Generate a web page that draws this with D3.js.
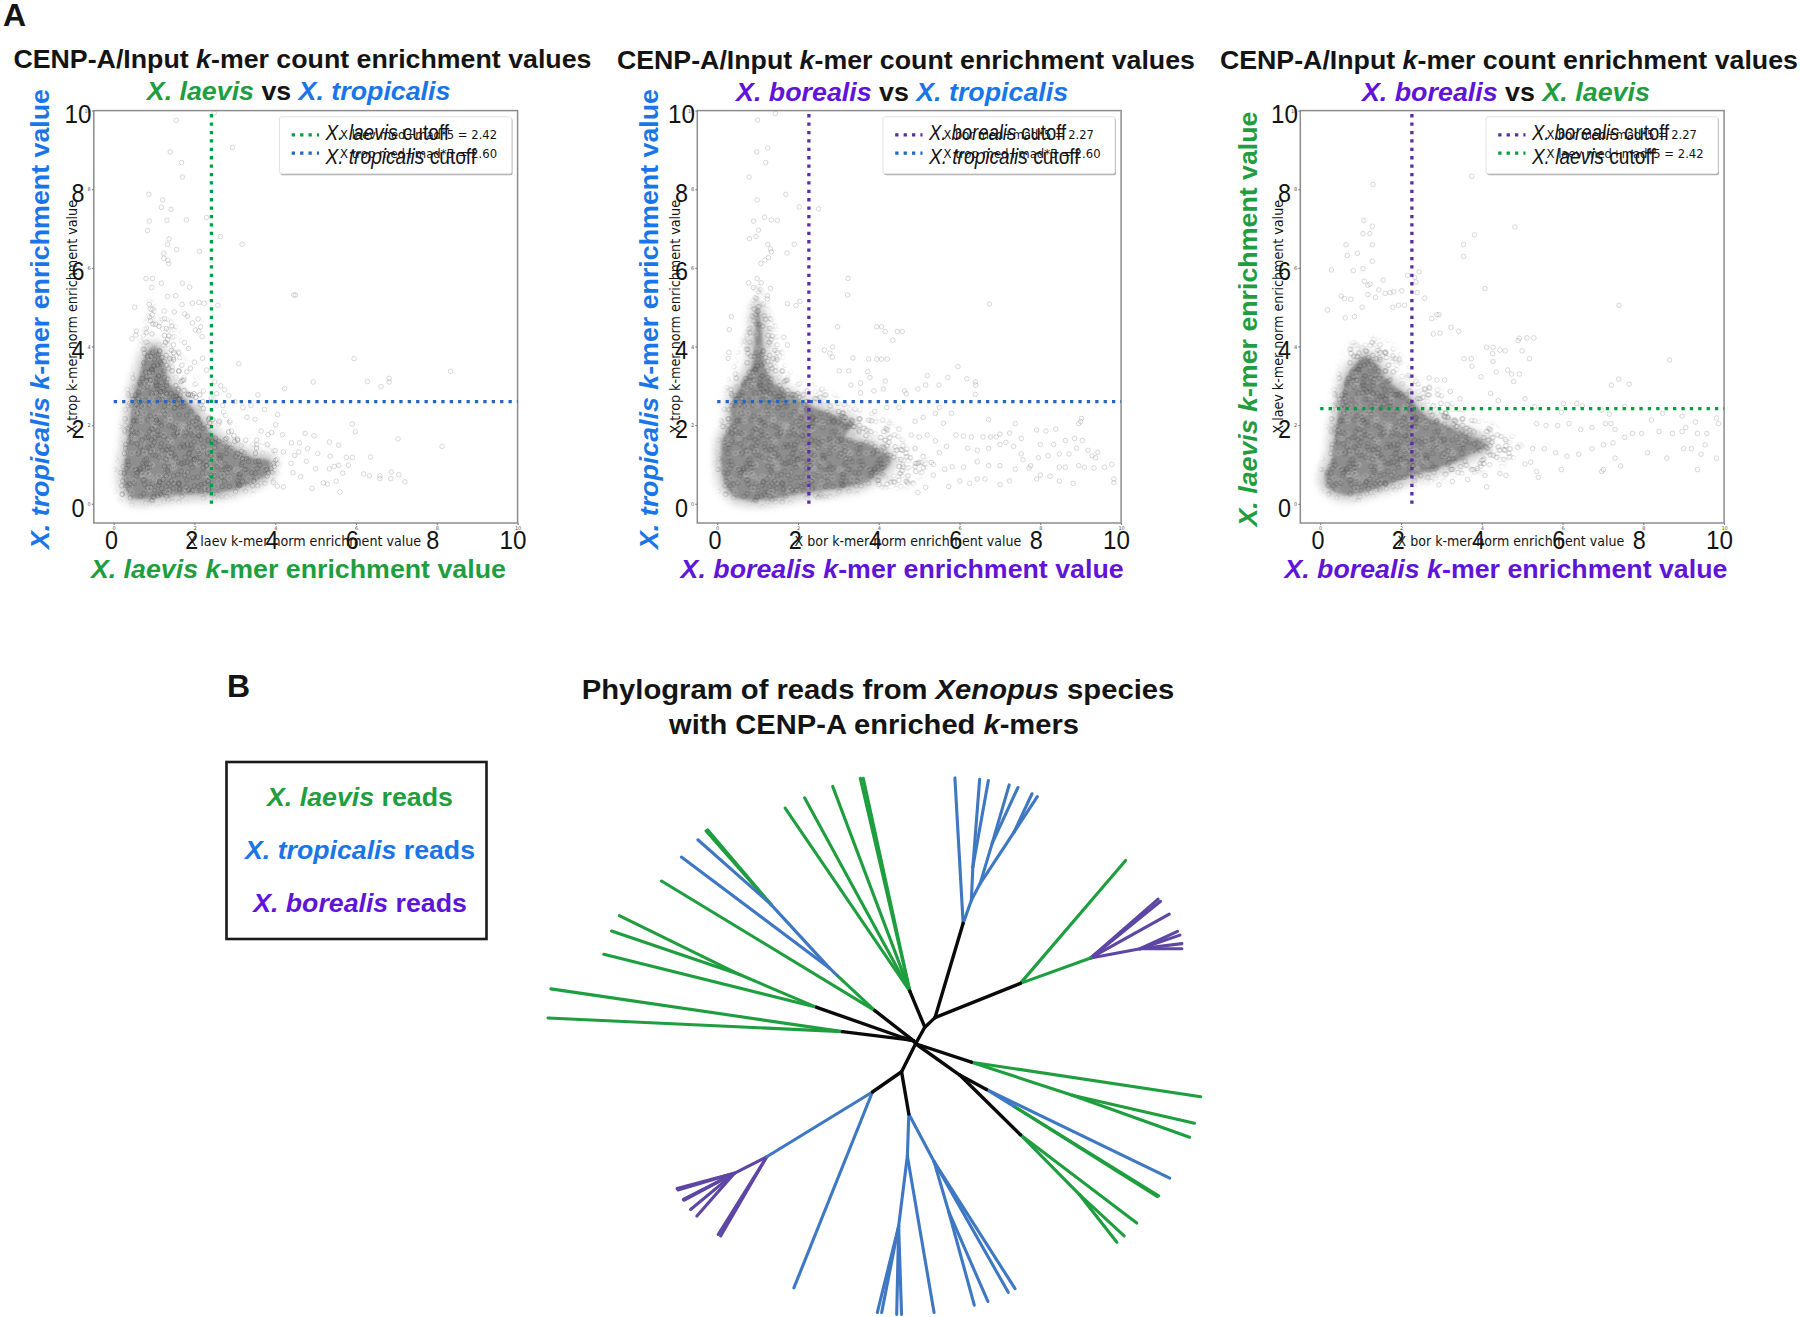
<!DOCTYPE html>
<html>
<head>
<meta charset="utf-8">
<script src="https://cdn.jsdelivr.net/npm/d3@7"></script>
<style>
	html, body { margin: 0; padding: 0; background: #fff; }
	text { font-family: "Liberation Sans", Arial, sans-serif; }
	.small { font-family: "DejaVu Sans", sans-serif; }
</style>
</head>
<body>
<div id="chart"></div>
<script>
var green = "#1f9e3f",
	blue = "#1a75e8",
	purple = "#5f14d8",
	ink = "#141414";

var axisTicks = [0, 2, 4, 6, 8, 10];

var laevCutoff = 2.42,
	tropCutoff = 2.60,
	borCutoff = 2.27;

// sparse points, [x, y]
var laevTropPoints = [[2.49,9.94],[1.55,9.75],[2.94,9.06],[1.40,8.95],[1.68,8.68],[1.70,8.31],[0.87,7.87],[1.21,7.73],[1.18,7.54],[1.42,7.49],[0.88,7.19],[1.32,7.21],[1.80,7.22],[2.30,7.28],[0.84,6.95],[2.64,6.80],[1.37,6.74],[1.33,6.60],[3.18,6.60],[1.56,6.47],[1.24,6.37],[2.12,6.42],[1.24,6.24],[1.34,6.19],[1.36,6.11],[0.80,5.73],[0.96,5.73],[1.18,5.61],[1.70,5.61],[1.88,5.51],[0.94,5.50],[4.46,5.31],[4.50,5.31],[1.33,5.27],[1.53,5.29],[1.95,5.10],[2.11,5.12],[2.24,5.10],[2.58,5.05],[0.52,5.00],[1.69,5.07],[0.88,5.07],[0.97,4.95],[1.25,4.90],[1.50,4.88],[1.76,4.83],[1.83,4.77],[2.09,4.70],[1.26,4.71],[0.56,4.39],[0.45,4.20],[0.55,4.29],[2.11,4.39],[2.02,4.42],[2.19,4.25],[5.95,3.69],[3.10,3.56],[8.34,3.37],[6.28,3.11],[6.82,3.10],[6.82,3.19],[6.62,2.98],[4.94,3.10],[4.23,2.93],[3.57,2.77],[5.91,2.03],[5.98,1.83],[4.06,2.27],[3.73,2.40],[7.04,1.65],[8.13,1.46],[5.57,1.49],[5.34,1.57],[4.80,1.40],[4.74,1.79],[4.96,1.73],[4.18,1.76],[5.76,1.18],[6.36,1.19],[5.91,1.18],[5.36,1.21],[5.05,1.28],[4.77,1.08],[5.81,0.98],[5.34,0.89],[5.46,0.95],[5.57,0.98],[6.19,0.76],[6.33,0.71],[6.59,0.71],[6.59,0.64],[6.87,0.81],[6.86,0.64],[7.06,0.74],[7.21,0.56],[5.19,0.53],[5.29,0.50],[5.60,0.30],[4.91,0.39],[4.20,0.43],[5.51,0.58],[5.67,0.78],[5.00,0.89],[4.63,0.69],[4.39,1.03],[4.48,1.23],[4.58,1.32],[4.44,0.79],[4.20,1.32],[3.91,1.81],[4.01,2.01],[3.82,1.76],[3.54,1.62],[2.20,3.70],[2.00,3.60],[1.90,3.45],[2.30,3.40],[2.50,3.10],[2.65,3.00],[2.75,2.90],[2.55,2.80],[2.85,2.75],[3.00,2.60],[3.20,2.45],[3.40,2.50],[3.30,2.20],[3.50,2.15],[2.70,2.50],[1.75,4.10],[1.85,3.95],[1.95,4.60],[2.15,4.50],[3.65,1.85],[3.80,1.50],[4.00,1.35],[4.40,1.55],[3.95,0.55],[4.05,0.45],[4.60,1.55]];
var borTropPoints = [[1.44,9.93],[1.00,9.76],[0.98,8.95],[1.25,9.05],[1.20,8.68],[0.79,8.31],[1.70,7.87],[0.99,7.73],[2.03,7.55],[2.51,7.50],[0.90,7.19],[1.17,7.29],[1.34,7.22],[1.49,7.21],[1.02,6.96],[0.80,6.74],[0.96,6.80],[1.91,6.60],[1.25,6.60],[1.32,6.48],[1.34,6.41],[1.73,6.38],[1.27,6.26],[1.18,6.20],[1.08,6.11],[0.99,5.73],[0.78,5.62],[0.90,5.50],[1.09,5.62],[1.32,5.48],[3.24,5.73],[3.23,5.31],[6.74,5.08],[1.24,5.29],[1.24,5.21],[1.74,5.09],[2.05,5.15],[1.95,5.04],[0.35,4.76],[2.98,4.50],[3.95,4.50],[4.07,4.50],[4.16,4.38],[4.46,4.38],[4.58,4.38],[4.35,4.16],[5.96,3.49],[0.30,4.43],[0.29,3.85],[0.27,3.70],[2.65,3.91],[2.86,3.99],[2.79,3.83],[2.85,3.73],[3.36,3.71],[3.75,3.68],[3.95,3.68],[4.07,3.68],[4.21,3.68],[1.65,4.24],[1.74,4.04],[5.20,3.26],[5.16,3.02],[4.97,2.92],[6.18,3.18],[6.39,3.10],[6.40,3.02],[5.71,3.21],[5.49,3.02],[4.16,3.12],[4.64,2.87],[4.68,2.80],[6.39,2.78],[4.11,2.92],[3.88,2.87],[3.55,3.07],[3.31,3.02],[3.02,3.38],[3.26,3.38],[3.73,3.36],[3.78,3.21],[3.55,2.82],[6.72,2.14],[7.38,2.04],[9.00,2.09],[8.95,2.04],[9.02,2.17],[8.38,1.90],[8.14,1.85],[7.91,1.88],[7.53,1.66],[7.24,1.80],[7.00,1.77],[6.91,1.70],[6.77,1.70],[6.58,1.70],[6.29,1.70],[6.10,1.72],[5.91,1.75],[5.68,1.46],[6.20,1.41],[6.44,1.36],[6.72,1.41],[7.00,1.51],[7.15,1.56],[7.34,1.46],[7.53,1.27],[7.57,1.12],[8.00,1.51],[8.33,1.51],[8.62,1.61],[9.04,1.61],[9.18,1.36],[9.42,1.31],[8.90,1.41],[8.71,1.27],[8.47,1.27],[8.19,1.22],[7.95,1.17],[7.76,0.97],[7.72,0.91],[7.38,0.88],[7.00,0.97],[6.72,0.97],[6.44,1.07],[6.10,0.93],[5.82,0.94],[5.63,0.88],[5.35,0.73],[5.16,0.42],[4.97,0.29],[5.73,0.44],[6.01,0.58],[6.25,0.52],[6.44,0.63],[6.63,0.63],[7.00,0.49],[7.24,0.58],[7.91,0.63],[8.00,0.73],[8.24,0.70],[8.47,0.58],[8.81,0.52],[8.62,0.93],[8.95,0.97],[9.09,0.93],[9.33,0.91],[9.59,0.93],[9.77,1.00],[9.82,0.63],[9.82,0.54],[8.47,0.93],[9.37,1.17],[8.85,1.66],[9.28,1.22],[4.50,1.90],[4.80,1.75],[5.00,1.70],[5.20,1.75],[5.40,1.60],[5.50,1.30],[4.90,1.40],[5.10,1.20],[5.30,1.05],[4.60,1.00],[4.90,0.95],[5.10,0.92],[5.35,1.00],[4.50,0.60],[4.30,0.55],[4.70,0.55],[4.10,0.75],[4.90,2.10],[5.10,2.20],[5.60,2.05],[5.50,2.45],[5.80,2.30],[5.40,2.30],[4.50,2.45],[4.20,2.45],[3.90,2.35]];
var borLaevPoints = [[1.31,8.12],[3.75,8.33],[4.82,7.04],[1.08,7.21],[1.29,7.06],[1.06,6.87],[1.23,6.87],[3.82,6.84],[3.55,6.60],[0.64,6.59],[0.67,6.32],[1.29,6.59],[1.29,6.17],[0.92,6.37],[3.55,6.29],[0.28,5.95],[1.06,5.98],[0.82,5.93],[2.16,5.81],[2.45,5.90],[2.34,5.76],[2.37,5.64],[4.08,5.47],[0.18,4.93],[0.52,5.28],[0.60,5.22],[0.76,5.20],[1.09,5.66],[1.18,5.56],[1.23,5.59],[1.56,5.69],[1.45,5.44],[1.61,5.35],[1.73,5.37],[1.82,5.39],[1.37,5.25],[1.18,5.32],[2.02,5.42],[2.40,5.37],[2.59,5.23],[7.40,5.05],[1.80,5.00],[1.94,5.05],[2.09,5.05],[1.04,5.00],[0.62,4.73],[0.85,4.76],[2.89,4.81],[2.94,4.81],[2.76,4.71],[3.24,4.49],[3.43,4.39],[2.97,4.34],[2.80,4.32],[4.93,4.21],[4.90,4.15],[5.12,4.22],[5.29,4.22],[5.00,3.89],[5.18,3.69],[8.65,3.66],[4.12,3.98],[4.28,3.98],[4.27,3.82],[4.28,3.62],[4.45,3.91],[4.58,3.89],[3.56,3.69],[3.76,3.50],[3.74,3.69],[3.98,3.23],[4.79,3.11],[7.65,3.04],[7.21,3.02],[7.39,3.17],[4.36,3.35],[4.64,3.40],[4.74,3.30],[4.93,3.30],[2.70,3.20],[2.89,3.15],[3.08,3.15],[2.70,2.96],[3.22,2.86],[3.46,2.67],[4.22,2.81],[4.41,2.62],[6.02,2.55],[6.35,2.55],[6.49,2.49],[5.07,2.67],[5.31,2.47],[5.97,2.33],[6.97,2.38],[7.16,2.28],[7.54,2.47],[8.20,2.13],[8.48,2.30],[8.96,2.23],[9.05,1.94],[9.29,2.08],[9.81,2.18],[9.86,2.04],[8.39,1.84],[8.72,1.79],[8.96,1.84],[9.34,1.79],[9.57,1.79],[7.96,1.79],[7.73,1.79],[7.30,1.89],[7.06,2.04],[6.73,1.94],[6.45,1.89],[6.16,2.04],[5.88,1.99],[5.59,1.99],[5.36,2.04],[7.01,1.50],[7.25,1.55],[7.54,1.69],[8.10,1.30],[7.30,1.16],[7.44,0.96],[6.97,0.82],[7.01,0.87],[9.00,1.40],[9.19,1.40],[9.53,1.50],[9.81,1.16],[9.43,1.26],[9.34,0.87],[8.58,1.16],[6.40,1.26],[6.73,1.40],[6.11,1.21],[5.97,0.87],[5.83,1.30],[5.55,1.40],[5.26,1.40],[5.36,0.82],[5.40,0.67],[5.07,1.01],[5.21,1.06],[4.60,0.72],[4.45,0.77],[4.12,0.43],[4.08,0.72],[3.27,0.57],[2.94,0.48],[3.65,0.62],[7.20,2.04]];

// outlines of the dense clouds, in data units
var laevTropCore = [[0.45,0.16],[0.27,0.45],[0.24,0.74],[0.31,1.32],[0.36,1.81],[0.45,2.49],[0.52,2.88],[0.64,3.27],[0.83,3.86],[1.02,4.00],[1.21,3.66],[1.36,3.08],[1.50,2.93],[2.02,2.35],[2.40,1.81],[2.87,1.47],[3.44,1.18],[3.87,1.08],[3.77,0.74],[3.35,0.50],[2.68,0.30],[1.64,0.23],[0.79,0.13]];
var laevTropHalo = [[0.20,0.10],[0.10,0.50],[0.15,1.30],[0.30,2.30],[0.40,3.00],[0.65,3.80],[0.80,4.60],[0.95,5.20],[1.10,4.70],[1.50,4.60],[1.65,3.80],[2.20,3.00],[2.70,2.40],[3.10,1.80],[3.70,1.50],[4.10,1.10],[3.90,0.60],[3.30,0.32],[2.40,0.20],[1.00,0.08]];
var borTropCore = [[0.32,0.29],[0.18,0.53],[0.11,0.92],[0.13,1.61],[0.32,2.00],[0.37,2.58],[0.61,3.07],[0.84,3.46],[0.94,4.30],[1.00,5.00],[1.10,4.40],[1.18,3.50],[1.41,3.07],[2.12,2.58],[2.79,2.29],[3.36,2.05],[3.17,1.71],[3.73,1.51],[4.30,1.12],[3.92,0.68],[3.26,0.44],[2.22,0.29],[1.08,0.10],[0.51,0.15]];
var borTropHalo = [[0.10,0.30],[0.02,1.00],[0.10,1.90],[0.25,2.90],[0.45,3.60],[0.70,4.20],[0.85,5.00],[1.00,5.60],[1.20,5.00],[1.50,4.30],[1.70,3.40],[2.60,2.90],[3.50,2.40],[4.20,2.10],[4.60,1.60],[5.20,1.00],[4.80,0.50],[3.80,0.40],[2.60,0.18],[1.00,0.05]];
var borLaevCore = [[0.19,0.43],[0.12,0.72],[0.28,1.11],[0.38,1.89],[0.52,2.67],[0.66,3.25],[1.09,3.74],[1.37,3.59],[1.66,3.15],[2.13,2.77],[2.70,2.18],[3.46,1.84],[4.12,1.50],[3.65,1.21],[3.08,0.96],[2.32,0.72],[1.47,0.43],[0.62,0.23]];
var borLaevHalo = [[0.10,0.35],[0.05,0.80],[0.15,1.30],[0.25,2.00],[0.35,2.80],[0.50,3.50],[0.80,4.10],[1.30,4.20],[1.90,3.90],[2.30,3.20],[2.90,2.90],[3.60,2.30],[4.40,1.90],[5.00,1.40],[4.50,1.00],[3.60,0.75],[2.60,0.55],[1.50,0.30],[0.60,0.15]];

// tree nodes in read-off units: name, x, y
var treeNodes = [["r",857,825],["a",876,780],["b",897,754],["g1",845,682],["bl1",955,498],["g2",1073,661],["j",853,817],["g3",773,735],["k",830,808],["g4",653,726],["m",836,813],["g5",706,792],["d",828,901],["bl2",768,956],["bl3",843,1016],["g6",972,875],["e",948,910],["bl4",1003,949],["g7",1073,1072],
	["t1",588,185],["t2",628,157],["t3",686,126],["t4",743,104],["t5",749,104],
	["n1",972,435],["n2",975,345],["n3",990,390],["n4",1015,280],["n5",1060,250],["t6",938,103],["t7",989,107],["t8",1007,110],["t9",1050,122],["t10",1068,129],["t11",1097,146],["t12",1108,154],
	["t13",1290,327],["p1",1218,592],["p3",1320,567],["t14",1357,432],["t15",1362,438],["t16",1380,473],["t17",1397,520],["t18",1402,530],["t19",1406,553],["t20",1406,567],
	["t21",333,383],["bn",695,639],["bm",679,619],["bo",559,447],["t22",374,318],["t23",408,271],["t24",428,244],["t25",425,247],
	["h",494,637],["t26",246,477],["t27",230,519],["t28",214,582],["t29",105,676],["t30",99,755],
	["t31",1445,969],["q",1180,965],["t32",1432,1041],["t33",1422,1079],
	["t34",1381,1190],["gg",1060,995],["t35",1358,1238],["t36",1355,1240],
	["t37",1313,1312],["w",1195,1235],["t38",1287,1347],["t39",1272,1364],
	["t40",606,1488],["p4",550,1132],["t41",455,1347],["t42",450,1343],["p5",483,1177],["t43",365,1218],["t44",367,1222],["t45",378,1248],["t46",380,1250],["t47",393,1275],["t48",406,1293],
	["c1",840,1130],["c2",895,1145],["c3",822,1320],["c4",925,1280],["t49",895,1555],["t50",778,1555],["t51",787,1555],["t52",818,1560],["t53",828,1560],["t54",1062,1490],["t55",1048,1500],["t56",978,1535],["t57",1006,1525]];

var blackBranches = [["r","a"],["a","b"],["a","g1"],["b","bl1"],["b","g2"],["r","j"],["j","g3"],["j","k"],["k","g4"],["j","m"],["m","g5"],["r","d"],["d","bl2"],["d","bl3"],["r","g6"],["r","e"],["e","bl4"],["e","g7"]];
var greenBranches = [["g1","t1"],["g1","t2"],["g1","t3"],["g1","t4"],["g1","t5"],["g2","t13"],["g2","p1"],["g3","t21"],["g3","bn"],["bo","t24"],["bo","t25"],["g4","h"],["h","t26"],["h","t27"],["g4","t28"],["g5","t29"],["g5","t30"],["g6","t31"],["g6","q"],["q","t32"],["q","t33"],["gg","t35"],["gg","t36"],["g7","t37"],["g7","w"],["w","t38"],["w","t39"]];
var blueBranches = [["bl1","t6"],["bl1","n1"],["n1","n2"],["n2","t7"],["n2","t8"],["n1","n3"],["n3","n4"],["n4","t9"],["n4","t10"],["n3","n5"],["n5","t11"],["n5","t12"],["bn","bm"],["bm","t22"],["bm","bo"],["bo","t23"],["bl4","t34"],["bl4","gg"],["bl2","t40"],["bl2","p4"],["bl3","c1"],["bl3","c2"],["c1","t49"],["c1","c3"],["c3","t50"],["c3","t51"],["c3","t52"],["c3","t53"],["c2","t54"],["c2","t55"],["c2","c4"],["c4","t56"],["c4","t57"]];
var purpleBranches = [["p1","t14"],["p1","t15"],["p1","t16"],["p1","p3"],["p3","t17"],["p3","t18"],["p3","t19"],["p3","t20"],["p4","t41"],["p4","t42"],["p4","p5"],["p5","t43"],["p5","t44"],["p5","t45"],["p5","t46"],["p5","t47"],["p5","t48"]];

var readsLegend = [["X. laevis", green], ["X. tropicalis", blue], ["X. borealis", purple]];

var panels = [
	{id: "a", dx: 0, dy: 0, points: laevTropPoints, core: laevTropCore, halo: laevTropHalo,
		names: [["X. laevis", green], ["X. tropicalis", blue]], yTitleX: 49,
		shortX: "X laev", shortY: "X trop", cutX: laevCutoff, cutY: tropCutoff, xTitleC: 298.4, subC: 298.6,
		colX: "#00a040", colY: "#2266c4", subW: 303.6, xW: 415, yW: 460},
	{id: "b", dx: 603.5, dy: 1.5, points: borTropPoints, core: borTropCore, halo: borTropHalo,
		names: [["X. borealis", purple], ["X. tropicalis", blue]], yTitleX: 54.5,
		shortX: "X bor", shortY: "X trop", cutX: borCutoff, cutY: tropCutoff, xTitleC: 298.6, subC: 298.6,
		colX: "#5a2ca8", colY: "#2266c4", subW: 332, xW: 443, yW: 460},
	{id: "c", dx: 1206.5, dy: 1.5, points: borLaevPoints, core: borLaevCore, halo: borLaevHalo,
		names: [["X. borealis", purple], ["X. laevis", green]], yTitleX: 50.5,
		shortX: "X bor", shortY: "X laev", cutX: borCutoff, cutY: laevCutoff, xTitleC: 299.4, subC: 299.4,
		colX: "#5a2ca8", colY: "#00a040", subW: 288, xW: 443, yW: 415}
];

var svg = d3.select("#chart").append("svg")
	.attr("width", 1800)
	.attr("height", 1317)
	.style("display", "block");

var defs = svg.append("defs");

// texture for the dense regions, big tile so it does not show as stripes
function addTexture(id, size, count, base, stroke, opacity) {
	var p = defs.append("pattern")
		.attr("id", id)
		.attr("patternUnits", "userSpaceOnUse")
		.attr("width", size)
		.attr("height", size);
	if (base) {
		p.append("rect").attr("width", size).attr("height", size).attr("fill", base);
	}
	d3.range(count).forEach(function(i) {
		var cx = ((i * i * 0.000431 + i * 0.7548777) % 1) * size,
			cy = ((i * i * 0.000277 + i * 0.5698403) % 1) * size,
			light = (i * 7) % 13 < 4;
		[0, -size, size].forEach(function(ox) {
			[0, -size, size].forEach(function(oy) {
				var px = cx + ox, py = cy + oy;
				if (px < -3 || px > size + 3 || py < -3 || py > size + 3) { return; }
				p.append("circle")
					.attr("cx", px)
					.attr("cy", py)
					.attr("r", 2.3)
					.attr("fill", "none")
					.attr("stroke", light ? "#bdbdbd" : stroke)
					.attr("stroke-width", 0.8)
					.attr("stroke-opacity", opacity);
			});
		});
	});
}
addTexture("coreTexture", 131, 750, "#8e8e8e", "#555", 0.5);
addTexture("haloTexture", 131, 560, null, "#808080", 0.5);

[[ "blur1", 1.5 ], [ "blur2", 3 ], [ "blur3", 4.5 ]].forEach(function(b) {
	defs.append("filter").attr("id", b[0])
		.attr("x", "-20%").attr("y", "-20%").attr("width", "140%").attr("height", "140%")
		.append("feGaussianBlur").attr("stdDeviation", b[1]);
});

function addRich(sel, parts) {
	parts.forEach(function(part) {
		sel.append("tspan")
			.text(part[0])
			.attr("font-style", part[1] ? "italic" : "normal")
			.attr("fill", part[2] || ink);
	});
}

function drawPanel(panel) {
	var g = svg.append("g").attr("transform", "translate(" + panel.dx + ",0)");
	var x = d3.scaleLinear().domain([0, 10]).range([113.7, 517.6]);
	var y = d3.scaleLinear().domain([0, 10]).range([503.8, 110.6]);
	var bigX = d3.scaleLinear().domain([0, 10]).range([111.4, 513]);
	var bigY = d3.scaleLinear().domain([0, 10]).range([508, 113.7]);

	var outline = d3.line()
		.x(function(d) { return x(d[0]); })
		.y(function(d) { return y(d[1]); })
		.curve(d3.curveCatmullRomClosed);

	// each dense layer is the texture seen through a soft-edged mask
	function denseLayer(name, shape, texture, blur, spread, opacity) {
		var maskId = panel.id + name;
		var m = defs.append("mask").attr("id", maskId).attr("maskUnits", "userSpaceOnUse")
			.attr("x", 0).attr("y", 0).attr("width", 1800).attr("height", 1317);
		m.append("path").attr("d", outline(shape))
			.attr("fill", "#fff")
			.attr("stroke", "#fff")
			.attr("stroke-width", spread)
			.attr("filter", "url(#" + blur + ")");
		g.append("rect").attr("x", 90).attr("y", 105).attr("width", 435).attr("height", 425)
			.attr("fill", "url(#" + texture + ")")
			.attr("opacity", opacity)
			.attr("mask", "url(#" + maskId + ")");
	}
	denseLayer("halo", panel.halo, "haloTexture", "blur2", 0, 1);
	denseLayer("mid", panel.core, "coreTexture", "blur3", 12, 0.45);
	denseLayer("core", panel.core, "coreTexture", "blur1", 0, 1);

	g.selectAll("circle.pt").data(panel.points).enter().append("circle")
		.attr("class", "pt")
		.attr("cx", function(d) { return x(d[0]); })
		.attr("cy", function(d) { return y(d[1]); })
		.attr("r", 2.3)
		.attr("fill", "none")
		.attr("stroke", "#808080")
		.attr("stroke-opacity", 0.38)
		.attr("stroke-width", 0.8);

	// frame
	g.append("rect")
		.attr("x", 93.8).attr("y", 110.6)
		.attr("width", 423.8).attr("height", 412.4)
		.attr("fill", "none")
		.attr("stroke", "#8c8c8c")
		.attr("stroke-width", 1.5);

	// tiny original tick labels
	var xAxis = d3.axisBottom(x).tickValues(axisTicks).tickSize(2).tickPadding(1);
	var yAxis = d3.axisLeft(y).tickValues(axisTicks).tickSize(2).tickPadding(1);
	[g.append("g").attr("transform", "translate(0,523)").call(xAxis),
		g.append("g").attr("transform", "translate(93.8,0)").call(yAxis)].forEach(function(ax) {
		ax.select(".domain").remove();
		ax.selectAll("line").attr("stroke", "#777");
		ax.selectAll("text").attr("class", "small").attr("font-size", 5).attr("fill", "#555");
	});

	// cutoff lines
	g.append("line")
		.attr("x1", x(panel.cutX)).attr("x2", x(panel.cutX))
		.attr("y1", y(0)).attr("y2", y(10))
		.attr("stroke", panel.colX)
		.attr("stroke-width", 3.3)
		.attr("stroke-dasharray", "3.3 5.1");
	g.append("line")
		.attr("x1", x(0)).attr("x2", x(10))
		.attr("y1", y(panel.cutY)).attr("y2", y(panel.cutY))
		.attr("stroke", panel.colY)
		.attr("stroke-width", 3.3)
		.attr("stroke-dasharray", "3.3 5.1");

	// legend box
	g.append("rect").attr("x", 280.5).attr("y", 118.3).attr("width", 232).attr("height", 57)
		.attr("rx", 2).attr("fill", "#a8a8a8");
	g.append("rect").attr("x", 279.5).attr("y", 116.8).attr("width", 232).attr("height", 57)
		.attr("rx", 2).attr("fill", "#fff").attr("stroke", "#e2e2e2").attr("stroke-width", 1);

	var keys = [[panel.colX, panel.names[0][0], panel.shortX + " med+mad*5 = " + panel.cutX.toFixed(2), 134.8, 140, 139],
		[panel.colY, panel.names[1][0], panel.shortY + " med+mad*5 = " + panel.cutY.toFixed(2), 153.1, 163.5, 157.7]];
	keys.forEach(function(k) {
		g.append("line").attr("x1", 291.7).attr("x2", 319).attr("y1", k[3]).attr("y2", k[3])
			.attr("stroke", k[0]).attr("stroke-width", 3.3).attr("stroke-dasharray", "3.3 5.1");
		g.append("text").attr("class", "small").attr("x", 340).attr("y", k[5])
			.attr("font-size", 13).attr("fill", ink)
			.attr("textLength", k[2].length * 6.83).attr("lengthAdjust", "spacingAndGlyphs")
			.text(k[2]);
		var t = g.append("text").attr("x", 325.4).attr("y", k[4]).attr("font-size", 21.5)
			.attr("textLength", k[1].length * 6.75 + 63).attr("lengthAdjust", "spacingAndGlyphs");
		addRich(t, [[k[1], true], [" cutoff", false]]);
	});

	// small matplotlib axis labels
	var labelX = panel.shortX + " k-mer norm enrichment value",
		labelY = panel.shortY + " k-mer norm enrichment value";
	g.append("text").attr("class", "small").attr("x", 304.4).attr("y", 546.3)
		.attr("text-anchor", "middle").attr("font-size", 13.3).attr("fill", ink)
		.attr("textLength", labelX.length * 6.87).attr("lengthAdjust", "spacingAndGlyphs")
		.text(labelX);
	g.append("text").attr("class", "small")
		.attr("transform", "translate(76.6,316.8) rotate(-90)")
		.attr("text-anchor", "middle").attr("font-size", 13.3).attr("fill", ink)
		.attr("textLength", labelY.length * 6.87).attr("lengthAdjust", "spacingAndGlyphs")
		.text(labelY);

	// big pasted tick labels
	axisTicks.forEach(function(t) {
		g.append("text").attr("x", bigX(t)).attr("y", 548.5)
			.attr("text-anchor", "middle").attr("font-size", 25.5).attr("fill", ink)
			.attr("textLength", t === 10 ? 27 : 13).attr("lengthAdjust", "spacingAndGlyphs").text(t);
		g.append("text").attr("x", 78).attr("y", bigY(t) + 9)
			.attr("text-anchor", "middle").attr("font-size", 25.5).attr("fill", ink)
			.attr("textLength", t === 10 ? 27 : 13).attr("lengthAdjust", "spacingAndGlyphs").text(t);
	});

	// titles
	var title = g.append("text").attr("x", 302.4).attr("y", 67.7 + panel.dy)
		.attr("text-anchor", "middle").attr("font-size", 26).attr("font-weight", "bold")
		.attr("textLength", 578).attr("lengthAdjust", "spacingAndGlyphs");
	addRich(title, [["CENP-A/Input ", false], ["k", true], ["-mer count enrichment values", false]]);

	var sub = g.append("text").attr("x", panel.subC).attr("y", 99.5 + panel.dy)
		.attr("text-anchor", "middle").attr("font-size", 26.5).attr("font-weight", "bold")
		.attr("textLength", panel.subW).attr("lengthAdjust", "spacingAndGlyphs");
	addRich(sub, [[panel.names[0][0], true, panel.names[0][1]], [" vs ", false], [panel.names[1][0], true, panel.names[1][1]]]);

	var xt = g.append("text").attr("x", panel.xTitleC).attr("y", 578)
		.attr("text-anchor", "middle").attr("font-size", 26).attr("font-weight", "bold")
		.attr("textLength", panel.xW).attr("lengthAdjust", "spacingAndGlyphs");
	addRich(xt, [[panel.names[0][0], true, panel.names[0][1]], [" k", true, panel.names[0][1]], ["-mer enrichment value", false, panel.names[0][1]]]);

	var yt = g.append("text").attr("transform", "translate(" + panel.yTitleX + ",319) rotate(-90)")
		.attr("text-anchor", "middle").attr("font-size", 26).attr("font-weight", "bold")
		.attr("textLength", panel.yW).attr("lengthAdjust", "spacingAndGlyphs");
	addRich(yt, [[panel.names[1][0], true, panel.names[1][1]], [" k", true, panel.names[1][1]], ["-mer enrichment value", false, panel.names[1][1]]]);
}

panels.forEach(drawPanel);

// panel letters
svg.append("text").attr("x", 3).attr("y", 26).attr("font-size", 32).attr("font-weight", "bold").attr("fill", ink).text("A");
svg.append("text").attr("x", 227).attr("y", 697).attr("font-size", 32).attr("font-weight", "bold").attr("fill", ink).text("B");

// tree title
var t1 = svg.append("text").attr("x", 878).attr("y", 699)
	.attr("text-anchor", "middle").attr("font-size", 27.5).attr("font-weight", "bold")
	.attr("textLength", 592.6).attr("lengthAdjust", "spacingAndGlyphs");
addRich(t1, [["Phylogram of reads from ", false], ["Xenopus", true], [" species", false]]);
var t2 = svg.append("text").attr("x", 874).attr("y", 734)
	.attr("text-anchor", "middle").attr("font-size", 27.5).attr("font-weight", "bold")
	.attr("textLength", 410).attr("lengthAdjust", "spacingAndGlyphs");
addRich(t2, [["with CENP-A enriched ", false], ["k", true], ["-mers", false]]);

// reads legend
svg.append("rect").attr("x", 226.5).attr("y", 762).attr("width", 260).attr("height", 177)
	.attr("fill", "none").attr("stroke", "#1a1a1a").attr("stroke-width", 2.6);
var readsY = d3.scalePoint().domain(readsLegend.map(function(d) { return d[0]; })).range([806, 912]);
var readsW = [186, 230, 213.7];
readsLegend.forEach(function(d, i) {
	var t = svg.append("text").attr("x", 360).attr("y", readsY(d[0]))
		.attr("text-anchor", "middle").attr("font-size", 26).attr("font-weight", "bold")
		.attr("textLength", readsW[i]).attr("lengthAdjust", "spacingAndGlyphs");
	addRich(t, [[d[0], true, d[1]], [" reads", false, d[1]]]);
});

// phylogram
var treeX = d3.scaleLinear().domain([0, 2062]).range([500, 1500]);
var treeY = d3.scaleLinear().domain([0, 2716]).range([740, 1740]);
var nodeAt = new Map(treeNodes.map(function(n) { return [n[0], n]; }));

function drawBranches(list, colour, width) {
	svg.append("g").selectAll("line").data(list).enter().append("line")
		.attr("x1", function(d) { return treeX(nodeAt.get(d[0])[1]); })
		.attr("y1", function(d) { return treeY(nodeAt.get(d[0])[2]); })
		.attr("x2", function(d) { return treeX(nodeAt.get(d[1])[1]); })
		.attr("y2", function(d) { return treeY(nodeAt.get(d[1])[2]); })
		.attr("stroke", colour)
		.attr("stroke-width", width)
		.attr("stroke-linecap", "round");
}
drawBranches(purpleBranches, "#5e46a4", 3.1);
drawBranches(greenBranches, "#1f9e3f", 3.1);
drawBranches(blueBranches, "#3f78c2", 3.1);
drawBranches(blackBranches, "#0a0a0a", 3.4);
</script>
</body>
</html>
